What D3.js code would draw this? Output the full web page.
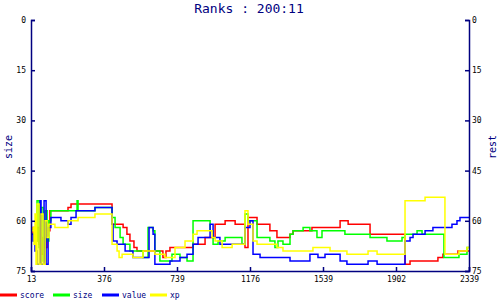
<!DOCTYPE html>
<html>
<head>
<meta charset="utf-8">
<script src="https://cdn.jsdelivr.net/npm/d3@7"></script>
<style>
  body { margin: 0; background: #fff; }
  text { font-family: "DejaVu Sans Mono", monospace; }
</style>
</head>
<body>
<div id="chart"></div>
<script>
// tick labels on the x axis (they are spaced evenly, not by value)
const xTicks = [13, 376, 739, 1176, 1539, 1902, 2339];
const yTicks = [0, 15, 30, 45, 60, 75];

// [day, rank] step points for each series
const score = [[13,64],[23,62],[33,66],[43,62],[53,67],[63,70],[73,65],[83,68],[93,63],[107,57],[197,56],[212,55],
  [416,61],[446,61],[471,62],[490,64],[505,66],[525,68],[540,69],[669,71],[684,69],[704,68],[835,67],[907,65],
  [967,61],[1027,60],[1087,61],[1146,68],[1164,59],[1211,61],[1275,63],[1310,65],[1375,64],[1390,63],[1484,62],
  [1624,60],[1664,61],[1773,64],[1956,73],[1986,72],[2153,71],[2183,70],[2273,69],[2339,69]];

const size = [[13,64],[28,66],[43,54],[53,68],[63,56],[73,72],[83,57],[93,66],[102,60],[112,57],[237,57],[242,54],
  [247,57],[286,57],[331,56],[416,59],[431,62],[456,65],[471,67],[505,69],[570,71],[595,62],[620,63],[629,69],
  [654,72],[714,70],[757,71],[799,72],[835,60],[937,63],[955,67],[985,66],[1027,65],[1128,67],[1146,58],[1164,60],
  [1211,65],[1275,66],[1300,68],[1315,66],[1340,67],[1375,64],[1390,63],[1440,62],[1474,63],[1509,65],[1534,63],
  [1648,64],[1773,65],[1857,66],[1938,65],[1956,64],[2028,63],[2058,64],[2189,71],[2279,70],[2327,68],[2339,68]];

const value = [[13,64],[23,66],[33,69],[43,73],[58,54],[63,73],[78,54],[88,73],[98,62],[112,59],[162,60],[197,61],
  [212,59],[237,57],[331,56],[416,61],[421,66],[441,67],[481,69],[520,71],[600,62],[620,64],[629,73],[704,72],
  [757,71],[799,70],[835,67],[865,65],[937,61],[955,65],[996,67],[1146,62],[1176,60],[1191,70],[1226,71],[1375,72],
  [1474,70],[1514,71],[1549,70],[1624,72],[1658,73],[1763,72],[1808,73],[1956,66],[1986,65],[2004,64],[2076,63],
  [2123,62],[2237,61],[2267,60],[2285,59],[2339,59]];

const xp = [[13,63],[23,62],[28,67],[33,58],[38,73],[43,55],[53,73],[63,58],[73,73],[83,60],[93,65],[102,61],
  [132,62],[197,60],[247,59],[331,58],[416,67],[441,69],[451,71],[466,70],[520,71],[570,69],[629,70],[679,71],
  [729,68],[787,66],[835,64],[859,63],[949,65],[967,66],[1009,68],[1069,67],[1146,57],[1164,61],[1191,66],[1211,67],
  [1310,68],[1340,69],[1489,68],[1574,69],[1658,70],[1763,69],[1808,70],[1956,54],[2076,53],[2195,70],[2279,69],
  [2327,68],[2339,68]];

const series = [
  { name: "score", data: score, color: "#ff0000" },
  { name: "size", data: size, color: "#00ff00" },
  { name: "value", data: value, color: "#0000ff" },
  { name: "xp", data: xp, color: "#ffff00" }
];

const width = 500, height = 300;
const margin = { top: 20, right: 31, bottom: 29, left: 31 };
const axisColor = "#000080";

const svg = d3.select("#chart").append("svg")
  .attr("width", width)
  .attr("height", height);

const plotW = width - margin.left - margin.right;
const x = d3.scaleLinear()
  .domain(xTicks)
  .range(xTicks.map((d, i) => margin.left + i * plotW / (xTicks.length - 1)));
const y = d3.scaleLinear()
  .domain([0, 75])
  .range([margin.top, height - margin.bottom]);

// series lines
const line = d3.line()
  .x(d => x(d[0]))
  .y(d => y(d[1]))
  .curve(d3.curveStepAfter);

series.forEach(s => {
  svg.append("path")
    .attr("d", line(s.data))
    .attr("fill", "none")
    .attr("stroke", s.color)
    .attr("stroke-width", 1.5);
});

// axes
function styleAxis(g) {
  g.selectAll("path, line").attr("stroke", axisColor).attr("stroke-width", 1.5);
  g.selectAll("text").attr("fill", "#000").attr("font-size", 8)
    .attr("font-family", "DejaVu Sans Mono, monospace");
}

svg.append("g")
  .attr("transform", `translate(0,${height - margin.bottom})`)
  .call(d3.axisBottom(x).tickValues(xTicks).tickFormat(d => d).tickSize(-4).tickPadding(5))
  .call(styleAxis);

svg.append("g")
  .attr("transform", `translate(${margin.left},0)`)
  .call(d3.axisLeft(y).tickValues(yTicks).tickSize(-4).tickPadding(5))
  .call(styleAxis);

svg.append("g")
  .attr("transform", `translate(${width - margin.right},0)`)
  .call(d3.axisRight(y).tickValues(yTicks).tickSize(-4).tickPadding(3))
  .call(styleAxis);

// title and axis names
svg.append("text")
  .attr("x", 249).attr("y", 13)
  .attr("text-anchor", "middle")
  .attr("fill", axisColor)
  .attr("font-size", 13)
  .text("Ranks : 200:11");

svg.append("text")
  .attr("transform", "translate(12,147) rotate(-90)")
  .attr("text-anchor", "middle")
  .attr("fill", axisColor)
  .attr("font-size", 10)
  .text("size");

svg.append("text")
  .attr("transform", "translate(496,147) rotate(-90)")
  .attr("text-anchor", "middle")
  .attr("fill", axisColor)
  .attr("font-size", 10)
  .text("rest");

// legend
const legend = svg.append("g").attr("transform", "translate(0,295)");
const legendX = [0, 53, 102, 150];
series.forEach((s, i) => {
  legend.append("line")
    .attr("x1", legendX[i]).attr("x2", legendX[i] + 17)
    .attr("y1", 0).attr("y2", 0)
    .attr("stroke", s.color)
    .attr("stroke-width", 3);
  legend.append("text")
    .attr("x", legendX[i] + 20).attr("y", 3)
    .attr("fill", axisColor)
    .attr("font-size", 8)
    .text(s.name);
});
</script>
</body>
</html>
